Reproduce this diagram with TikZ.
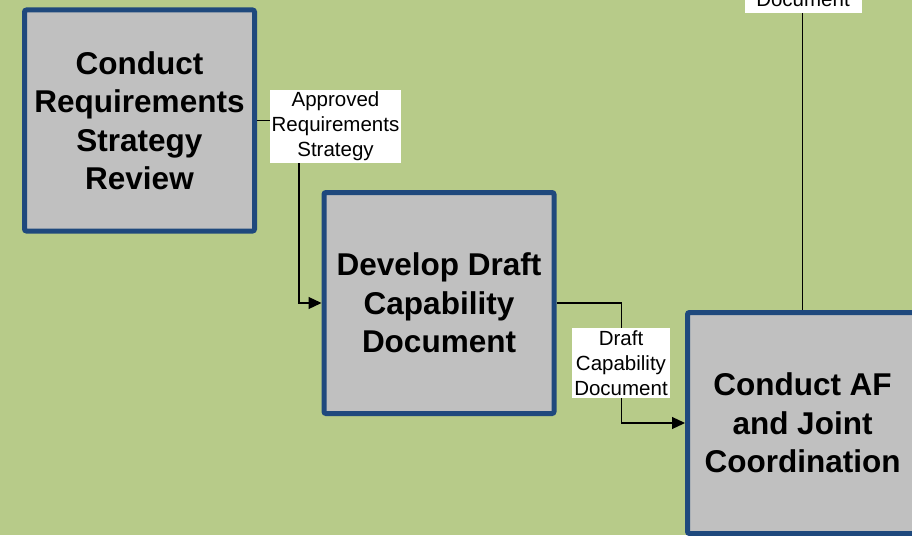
\documentclass[tikz,border=0pt]{standalone}
\usepackage{fontspec}
\setmainfont{Liberation Sans}
\usetikzlibrary{arrows.meta,positioning}
\definecolor{bggreen}{RGB}{183,203,137}
\definecolor{boxblue}{RGB}{31,73,125}
\definecolor{boxgray}{RGB}{192,192,192}

\begin{document}
\begin{tikzpicture}[x=1pt, y=-1pt,
    processbox/.style={rectangle, draw=boxblue, fill=boxgray, line width=5pt, rounded corners=2pt,
        minimum width=230pt, minimum height=221pt, align=center,
        font=\fontsize{31.5}{38.5}\selectfont\bfseries},
    doclabel/.style={rectangle, fill=white, inner xsep=2pt, inner ysep=2pt, align=center,
        font=\fontsize{20.5}{25}\selectfont},
    arrow/.style={-{Triangle[length=13pt, width=12pt]}, line width=1.2pt},
    flow/.style={line width=1.2pt},
]
    % Background
    \fill[bggreen] (0,0) rectangle (912,535);
    \useasboundingbox (0,0) rectangle (912,535);

    % Process boxes
    \node[processbox] (rsr)  at (139.5, 120.5) {Conduct\\Requirements\\Strategy\\Review};
    \node[processbox] (ddc)  at (439, 303)     {Develop Draft\\Capability\\Document};
    \node[processbox] (cafj) at (802.5, 423)   {Conduct AF\\and Joint\\Coordination};

    % Connectors
    \draw[arrow] (rsr.east) -- ++(42,0) |- (ddc.west);
    \draw[arrow] (ddc.east) -- ++(65,0) |- (cafj.west);

    % Document labels
    \node[doclabel] (ars) at (335.5, 126.5) {Approved\\Requirements\\Strategy};
    \node[doclabel] (dcd) at (621, 363)     {Draft\\Capability\\Document};
    \node[doclabel, minimum width=117pt, anchor=base, text depth=3.7pt] (out) at (803, 7) {Document};

    \draw[flow] (cafj.north) -- (cafj.north |- out.south);
\end{tikzpicture}
\end{document}
